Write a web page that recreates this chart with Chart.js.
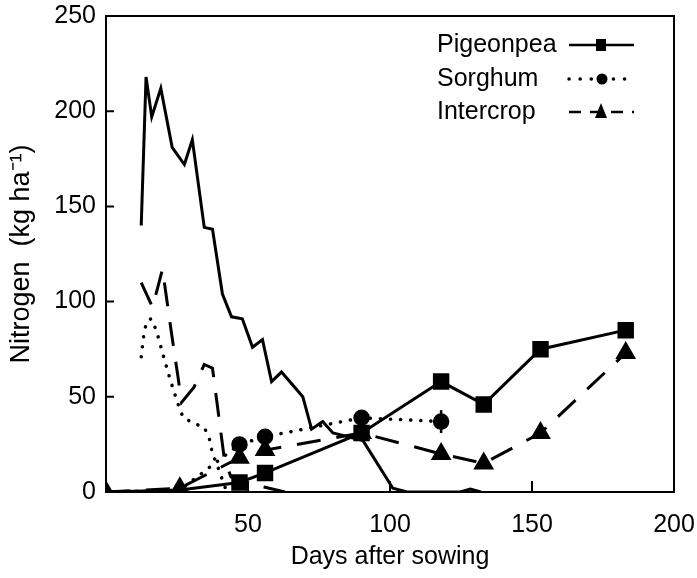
<!DOCTYPE html>
<html>
<head>
<meta charset="utf-8">
<script src="https://cdn.jsdelivr.net/npm/chart.js@4.4.1/dist/chart.umd.min.js"></script>
<style>
  html, body { margin: 0; padding: 0; background: #fff; }
</style>
</head>
<body>
<canvas id="chart" width="697" height="578"></canvas>
<script>
// sampling days of the crop N measurements
const sampleDays = [0, 26, 47, 56, 90, 118, 133, 153, 183]
const pigeonpea = [0, 1, 5, 10, 31, 58, 46, 75, 85]
const intercrop = [0, 2, 18, 22, 31, 20, 15, 31, 73]
const sorghumDays = [0, 26, 47, 56, 90, 118]
const sorghum = [0, 1, 25, 29, 39, 37]
const sorghumErr = [0, 0, 0, 0, 0, 6]

// unmarked curves
const pigeonpeaSoilDays = [12.4, 14.1, 16.1, 19.3, 23.3, 27.6, 30.4, 34.6, 37.5, 41, 44.2, 48, 51.6, 55.1, 58.3, 61.8, 69.3, 72.4, 76.3, 79.9, 90.5, 101, 106, 124.7, 128.3, 132]
const pigeonpeaSoil = [140, 218, 197, 212, 181, 172, 185, 139, 138, 104, 92, 91, 76, 80, 58, 63, 50, 33, 37, 31, 27, 2, 0, 0, 1.5, 0]
const sorghumSoilDays = [12.4, 13.4, 14.5, 15.9, 17.7, 20.1, 22.6, 25.4, 27.2, 31.1, 34.6, 36.4, 37.5, 39.2, 40.6, 42.5]
const sorghumSoil = [71, 84, 90, 91, 85, 72, 59, 46, 39, 36, 34, 28, 20, 14, 8, 0]
const intercropSoilDays = [12.4, 16.4, 19.9, 23.0, 25.4, 26.6, 31.0, 34.6, 37.5, 41.7, 44, 50, 56, 63]
const intercropSoil = [110, 97, 117, 84, 60, 47, 55, 67, 65, 17, 8, 4, 2.5, 0]

const xTicks = [0, 50, 100, 150, 200]
const yTicks = [0, 50, 100, 150, 200, 250]
const legendNames = ['Pigeonpea', 'Sorghum', 'Intercrop']

const FONT = "'Liberation Sans', Arial, Helvetica, sans-serif"
const DOTS = [0.1, 10]
const DASH = [24, 16]

function pts(days, vals) {
  return days.map((d, i) => ({ x: d, y: vals[i] }))
}

// frame, inward ticks, error bar and legend
const extras = {
  id: 'extras',
  afterDatasetsDraw(chart) {
    const { ctx, chartArea: a, scales: { x, y } } = chart
    ctx.save()
    ctx.strokeStyle = '#000'
    ctx.lineWidth = 2
    ctx.setLineDash([])
    ctx.strokeRect(a.left, a.top, a.right - a.left, a.bottom - a.top)
    ctx.beginPath()
    yTicks.forEach(v => {
      const p = y.getPixelForValue(v)
      ctx.moveTo(a.left, p)
      ctx.lineTo(a.left + 8, p)
    })
    xTicks.forEach(v => {
      const p = x.getPixelForValue(v)
      ctx.moveTo(p, a.bottom)
      ctx.lineTo(p, a.bottom - 11)
    })
    ctx.stroke()

    // error bars on sorghum
    ctx.lineWidth = 2.5
    ctx.beginPath()
    sorghumDays.forEach((d, i) => {
      if (!sorghumErr[i]) return
      const px = x.getPixelForValue(d)
      ctx.moveTo(px, y.getPixelForValue(sorghum[i] - sorghumErr[i]))
      ctx.lineTo(px, y.getPixelForValue(sorghum[i] + sorghumErr[i]))
    })
    ctx.stroke()

    // legend
    ctx.fillStyle = '#000'
    ctx.font = '25px ' + FONT
    ctx.textBaseline = 'middle'
    ctx.textAlign = 'left'
    const rows = [45, 79, 112]
    legendNames.forEach((name, i) => {
      const ly = rows[i]
      ctx.fillText(name, 437, ly)
      ctx.lineCap = i === 1 ? 'round' : 'butt'
      ctx.lineWidth = i === 1 ? 3.5 : 2.5
      ctx.setLineDash(i === 0 ? [] : i === 1 ? [0.1, 11] : [12, 9])
      ctx.beginPath()
      ctx.moveTo(569, ly)
      ctx.lineTo(634, ly)
      ctx.stroke()
      ctx.setLineDash([])
      ctx.beginPath()
      if (i === 0) ctx.rect(596, ly - 6, 10, 12)
      else if (i === 1) ctx.arc(602, ly, 5.5, 0, Math.PI * 2)
      else { ctx.moveTo(601, ly - 9); ctx.lineTo(607, ly + 6); ctx.lineTo(595, ly + 6); ctx.closePath() }
      ctx.fill()
    })
    ctx.restore()
  }
}

const chartCanvas = document.getElementById('chart').getContext('2d')
Chart.defaults.color = '#000'
Chart.defaults.font.family = FONT

const chart = new Chart(chartCanvas, {
  type: 'line',
  data: {
    datasets: [
      {
        label: 'Pigeonpea',
        data: pts(sampleDays, pigeonpea),
        borderColor: '#000', backgroundColor: '#000', borderWidth: 3,
        pointStyle: 'rect', pointRadius: [0, 0, 9.5, 9.5, 9.5, 9.5, 9.5, 9.5, 9.5]
      },
      {
        label: 'Sorghum',
        data: pts(sorghumDays, sorghum),
        borderColor: '#000', backgroundColor: '#000', borderWidth: 3.5,
        borderDash: DOTS, borderCapStyle: 'round',
        pointStyle: 'circle', pointRadius: [0, 0, 6.5, 6.5, 6.5, 6.5]
      },
      {
        label: 'Intercrop',
        data: pts(sampleDays, intercrop),
        borderColor: '#000', backgroundColor: '#000', borderWidth: 3,
        borderDash: DASH,
        pointStyle: 'triangle', pointRadius: 9
      },
      {
        label: 'Pigeonpea soil',
        data: pts(pigeonpeaSoilDays, pigeonpeaSoil),
        borderColor: '#000', borderWidth: 3, pointRadius: 0
      },
      {
        label: 'Sorghum soil',
        data: pts(sorghumSoilDays, sorghumSoil),
        borderColor: '#000', borderWidth: 3.5, borderDash: DOTS, borderCapStyle: 'round', pointRadius: 0
      },
      {
        label: 'Intercrop soil',
        data: pts(intercropSoilDays, intercropSoil),
        borderColor: '#000', borderWidth: 3, borderDash: DASH, pointRadius: 0
      }
    ]
  },
  options: {
    responsive: false,
    animation: false,
    layout: { padding: { left: 0, right: 23, top: 16, bottom: 0 } },
    plugins: { legend: { display: false }, tooltip: { enabled: false } },
    elements: { line: { tension: 0 }, point: { borderWidth: 0 } },
    scales: {
      x: {
        type: 'linear', min: 0, max: 200,
        afterFit(scale) {
          scale.height = 86
          scale.paddingLeft = 0
          scale.paddingRight = 0
        },
        afterBuildTicks(scale) { scale.ticks = xTicks.map(v => ({ value: v })) },
        grid: { display: false, drawTicks: false },
        border: { display: false },
        ticks: {
          padding: 18, font: { size: 25 },
          callback: v => (v === 0 ? '' : v)
        },
        title: { display: true, text: 'Days after sowing', font: { size: 25 }, padding: { top: 0, bottom: 6 } }
      },
      y: {
        type: 'linear', min: 0, max: 250,
        afterFit(scale) {
          scale.width = 106
          scale.paddingTop = 0
          scale.paddingBottom = 0
        },
        afterBuildTicks(scale) { scale.ticks = yTicks.map(v => ({ value: v })) },
        grid: { display: false, drawTicks: false },
        border: { display: false },
        ticks: { padding: 10, font: { size: 25 } },
        title: { display: true, text: 'Nitrogen  (kg ha⁻¹)', font: { size: 27 }, padding: { top: 5, bottom: 0 } }
      }
    }
  },
  plugins: [extras]
})
</script>
</body>
</html>
